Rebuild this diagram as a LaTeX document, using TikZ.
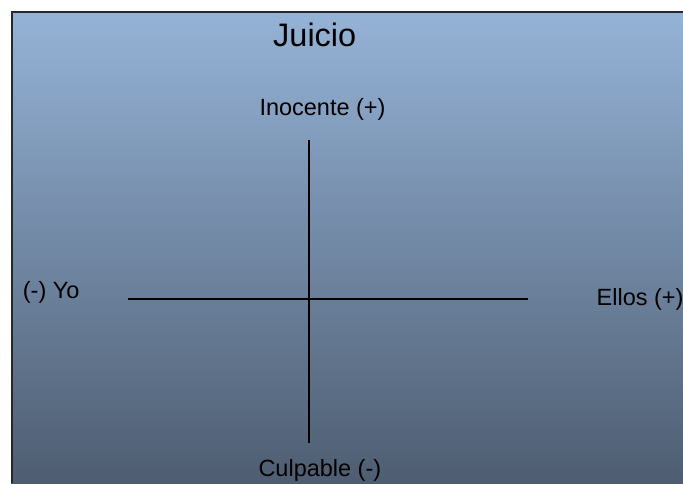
\documentclass[tikz,border=0pt]{standalone}
\usepackage{fontspec}
\setmainfont{Liberation Sans}
\definecolor{topc}{RGB}{149,179,215}
\definecolor{botc}{RGB}{78,93,113}
\tikzset{
  lbl/.style={inner sep=0pt, anchor=base west, font=\fontsize{23.5}{28}\selectfont},
  ttl/.style={inner sep=0pt, anchor=base west, font=\fontsize{32.5}{38}\selectfont},
  axis/.style={line width=2pt, black}
}
\begin{document}
\begin{tikzpicture}[x=1pt,y=-1pt]
\useasboundingbox (0,0) rectangle (683,483);
\shade[top color=topc, bottom color=botc] (11,11) rectangle (683,483);
\draw[line width=2pt, draw={rgb,255:red,40;green,40;blue,40}] (683,12) -- (12,12) -- (12,483);
\node[ttl] (title) at (273,46.7) {Juicio};
\node[lbl] (ino) at (259.3,115) {Inocente (+)};
\node[lbl] (cul) at (258.3,476.7) {Culpable (-)};
\node[lbl] (yo) at (22.7,298.3) {(-) Yo};
\node[lbl] (ellos) at (596.5,305) {Ellos (+)};
\coordinate (vt) at (308.5,140);
\coordinate (vb) at (308.5,442.7);
\coordinate (hl) at (128,298.5);
\coordinate (hr) at (527.5,298.5);
\draw[axis] (vt) -- (vb);
\draw[axis] (hl) -- (hr);
\end{tikzpicture}
\end{document}
